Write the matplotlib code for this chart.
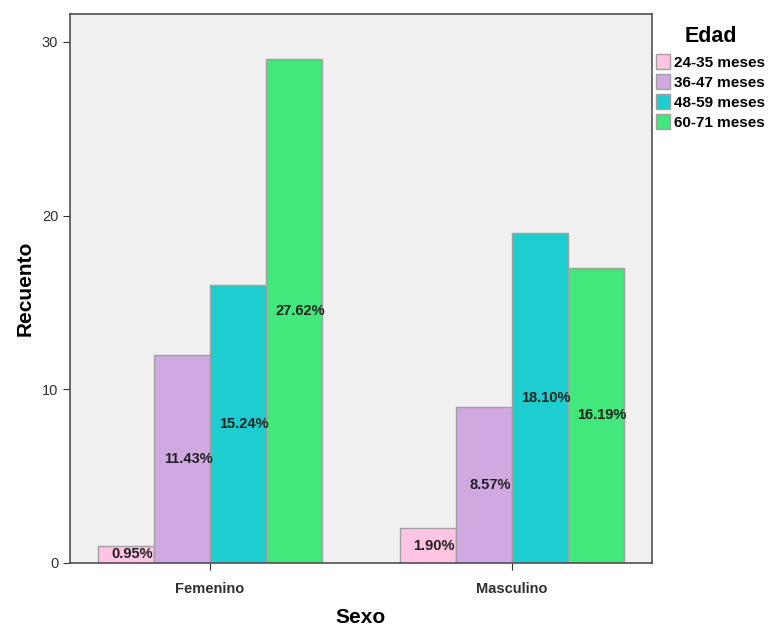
import numpy as np
import matplotlib.pyplot as plt
from matplotlib.patches import Patch

plt.rcParams['font.family'] = ['Liberation Sans', 'DejaVu Sans']

sexo = ['Femenino', 'Masculino']
edades = ['24-35 meses', '36-47 meses', '48-59 meses', '60-71 meses']
recuento = {
    '24-35 meses': [1, 2],
    '36-47 meses': [12, 9],
    '48-59 meses': [16, 19],
    '60-71 meses': [29, 17],
}
colores = ['#FFC4E1', '#D0A8E2', '#1ECDCF', '#42E87C']
total = sum(sum(v) for v in recuento.values())

fig = plt.figure(figsize=(7.71, 6.28), dpi=100)
ax = fig.add_axes([70 / 771, 65 / 628, 582 / 771, 549 / 628])
ax.set_facecolor('#F0F0F0')

x = np.arange(len(sexo))
w = 0.185
for i, (edad, col) in enumerate(zip(edades, colores)):
    vals = recuento[edad]
    pos = x + (i - 1.5) * w
    ax.bar(pos, vals, w, color=col, edgecolor='#A0A0A0', linewidth=1)
    for p, v in zip(pos, vals):
        ax.text(p + 0.02, v / 2, f'{v / total * 100:.2f}%', ha='center', va='center',
                fontsize=10.5, fontweight='bold', color='#202020')

ax.set_xlim(-0.464, 1.464)
ax.set_ylim(0, 31.6)
ax.set_yticks([0, 10, 20, 30])
ax.set_xticks(x)
ax.set_xticklabels(sexo, fontweight='bold', fontsize=10.5)
ax.tick_params(axis='y', labelsize=10.5, colors='#303030', length=5)
ax.tick_params(axis='x', length=5, colors='#303030', pad=9)
for s in ax.spines.values():
    s.set_color('#505050')
    s.set_linewidth(1.2)

ax.set_xlabel('Sexo', fontsize=15, fontweight='bold', labelpad=8)
ax.set_ylabel('Recuento', fontsize=15, fontweight='bold', labelpad=5)

handles = [Patch(facecolor=c, edgecolor='#A0A0A0', label=e) for c, e in zip(colores, edades)]
leg = fig.legend(handles=handles, loc='upper left', bbox_to_anchor=(650 / 771, 1 - 20 / 628),
                 frameon=False, title='Edad', handlelength=0.9, handleheight=1.1,
                 handletextpad=0.3, labelspacing=0.3, borderaxespad=0,
                 prop={'weight': 'bold', 'size': 11},
                 title_fontproperties={'weight': 'bold', 'size': 15.5})
leg._legend_box.sep = 5

fig.savefig('out.png', dpi=100)
